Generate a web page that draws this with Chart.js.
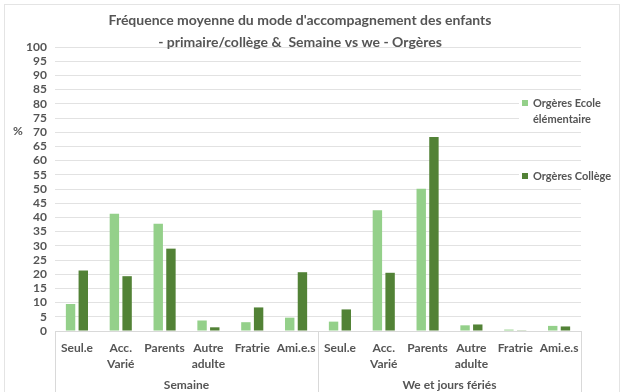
<!DOCTYPE html>
<html lang="fr">
<head>
<meta charset="utf-8">
<script src="https://cdn.jsdelivr.net/npm/chart.js@4"></script>
<style>
  html, body { margin: 0; padding: 0; background: #fff; }
  #wrap { width: 624px; height: 392px; position: relative; }
</style>
</head>
<body>
<div id="wrap"><canvas id="chart" width="624" height="392"></canvas></div>
<script>
const categories = [
  "Seul.e", ["Acc.", "Varié"], "Parents", ["Autre", "adulte"], "Fratrie", "Ami.e.s",
  "Seul.e", ["Acc.", "Varié"], "Parents", ["Autre", "adulte"], "Fratrie", "Ami.e.s"
];
const groups = [
  { label: "Semaine", from: 0, to: 5 },
  { label: "We et jours fériés", from: 6, to: 11 }
];
const ecole = [9.5, 41.3, 37.8, 3.7, 3.1, 4.7, 3.3, 42.5, 50.1, 2.0, 0.5, 1.8];
const college = [21.3, 19.3, 29.0, 1.3, 8.3, 20.7, 7.6, 20.5, 68.3, 2.3, 0.1, 1.6];
const seriesNames = ["Orgères Ecole\nélémentaire", "Orgères Collège"];
const title = ["Fréquence moyenne du mode d'accompagnement des enfants",
               "- primaire/collège &  Semaine vs we - Orgères"];

const grey = "#555555";
const fontFamily = "Lato, 'Open Sans', sans-serif";

// titre, unité, groupes de catégories, séparateurs et légende dessinés à la main
const decorations = {
  id: "decorations",
  beforeDatasetsDraw(chart) {
    const ctx = chart.ctx;
    const x = chart.scales.x;
    const area = chart.chartArea;
    ctx.save();
    ctx.strokeStyle = "#d9d9d9";
    ctx.lineWidth = 1;
    // axe horizontal et cadres des groupes
    ctx.beginPath();
    ctx.moveTo(area.left, area.bottom + 0.5);
    ctx.lineTo(area.right, area.bottom + 0.5);
    const step = x.getPixelForValue(1) - x.getPixelForValue(0);
    const edges = [area.left, x.getPixelForValue(groups[1].from) - step / 2, area.right];
    edges.forEach(e => {
      ctx.moveTo(Math.round(e) + 0.5, area.bottom);
      ctx.lineTo(Math.round(e) + 0.5, chart.height);
    });
    ctx.stroke();
    ctx.restore();
  },
  afterDraw(chart) {
    const ctx = chart.ctx;
    const x = chart.scales.x;
    ctx.save();
    ctx.fillStyle = grey;
    ctx.textAlign = "center";
    ctx.textBaseline = "middle";
    ctx.font = "bold 14px " + fontFamily;
    ctx.fillText(title[0], 300, 20);
    ctx.fillText(title[1], 300, 42);

    ctx.font = "bold 12px " + fontFamily;
    ctx.fillText("%", 18, 131);
    groups.forEach(g => {
      const cx = (x.getPixelForValue(g.from) + x.getPixelForValue(g.to)) / 2;
      ctx.fillText(g.label, cx, 385);
    });

    // légende posée sur la zone de tracé
    const colors = [chart.data.datasets[0].backgroundColor, chart.data.datasets[1].backgroundColor];
    const rows = [{ y: 103, lines: seriesNames[0].split("\n") }, { y: 176, lines: [seriesNames[1]] }];
    ctx.textAlign = "left";
    ctx.font = "bold 11px " + fontFamily;
    rows.forEach((r, i) => {
      ctx.fillStyle = "#fff";
      ctx.fillRect(519, r.y - 8, 100, r.lines.length * 16);
      ctx.fillStyle = colors[i];
      ctx.fillRect(522, r.y - 3, 6, 6);
      ctx.fillStyle = grey;
      r.lines.forEach((t, j) => ctx.fillText(t, 533, r.y + j * 16));
    });

    // cadre du graphique
    ctx.strokeStyle = "#e4e4e4";
    ctx.strokeRect(4.5, 4.5, 615, 400);
    ctx.restore();
  }
};

new Chart(document.getElementById("chart").getContext("2d"), {
  type: "bar",
  data: {
    labels: categories,
    datasets: [
      {
        label: seriesNames[0],
        data: ecole,
        backgroundColor: "#94d08a",
        categoryPercentage: 0.58,
        barPercentage: 0.74
      },
      {
        label: seriesNames[1],
        data: college,
        backgroundColor: "#528236",
        categoryPercentage: 0.58,
        barPercentage: 0.74
      }
    ]
  },
  options: {
    responsive: false,
    animation: false,
    layout: { padding: { top: 47, left: 5, right: 43, bottom: 0 } },
    plugins: {
      legend: { display: false },
      title: { display: false },
      tooltip: { enabled: false }
    },
    scales: {
      x: {
        grid: { display: false, drawTicks: false },
        border: { display: false },
        ticks: {
          autoSkip: false,
          maxRotation: 0,
          padding: 9,
          color: grey,
          font: { family: fontFamily, size: 12, weight: "bold", lineHeight: 1.35 }
        },
        afterFit: s => { s.height = 61; }
      },
      y: {
        min: 0,
        max: 100,
        ticks: {
          stepSize: 5,
          autoSkip: false,
          padding: 8,
          color: grey,
          font: { family: fontFamily, size: 12, weight: "bold" }
        },
        grid: { color: "#e2e2e2", drawTicks: false },
        border: { display: false },
        afterFit: s => { s.width = 50; }
      }
    }
  },
  plugins: [decorations]
});
</script>
</body>
</html>
